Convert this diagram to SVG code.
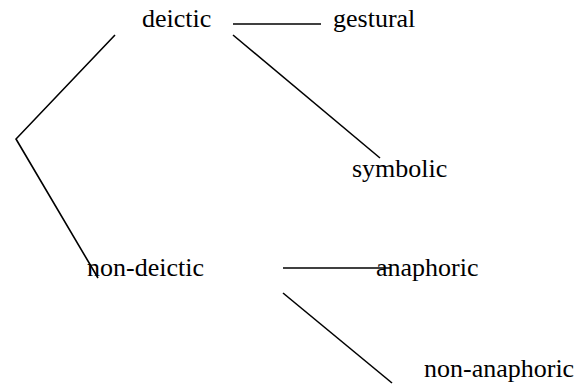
<svg xmlns="http://www.w3.org/2000/svg" width="581" height="387" viewBox="0 0 581 387">
  <style>
    .label { font-family: "Liberation Serif", "Times New Roman", serif; font-size: 26px; fill: #000; }
    .edge { stroke: #000; stroke-width: 1.6; fill: none; }
  </style>
  <rect width="581" height="387" fill="#fff"/>
  <g id="connectors">
    <polyline class="edge" points="115,35 16,139 98,278"/>
    <line class="edge" x1="233" y1="24" x2="321" y2="24"/>
    <line class="edge" x1="233" y1="35" x2="380" y2="158"/>
    <line class="edge" x1="283" y1="268" x2="390" y2="268"/>
    <line class="edge" x1="283" y1="293" x2="392" y2="383"/>
  </g>
  <g id="deictic"><text class="label" x="142" y="27">deictic</text></g>
  <g id="gestural"><text class="label" x="333" y="27">gestural</text></g>
  <g id="symbolic"><text class="label" x="352" y="177">symbolic</text></g>
  <g id="non-deictic"><text class="label" x="87" y="276">non-deictic</text></g>
  <g id="anaphoric"><text class="label" x="376" y="276">anaphoric</text></g>
  <g id="non-anaphoric"><text class="label" x="424" y="377">non-anaphoric</text></g>
</svg>
